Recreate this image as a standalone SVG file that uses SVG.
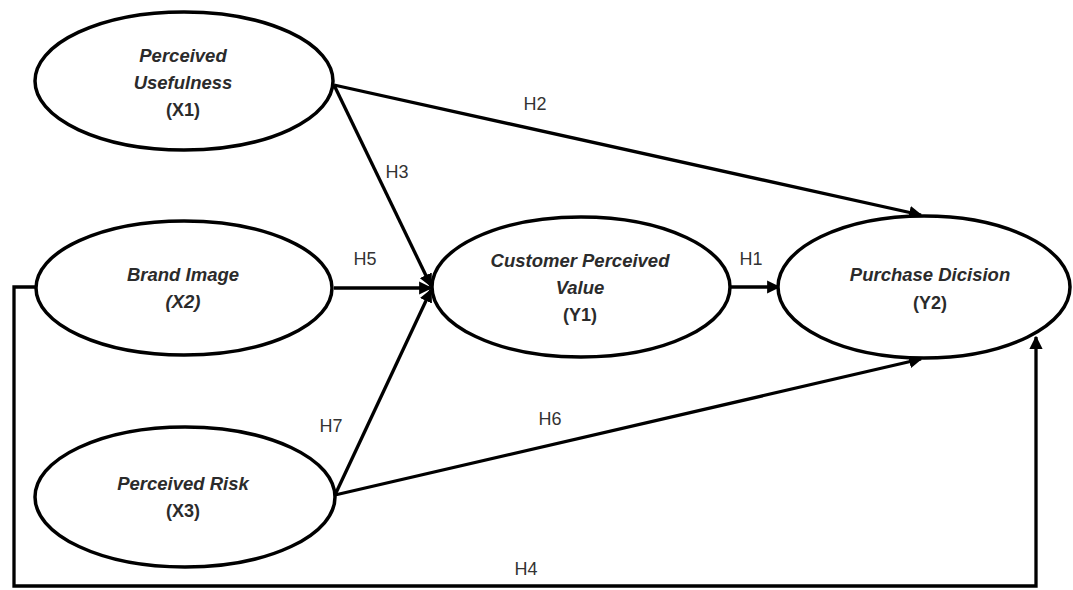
<svg xmlns="http://www.w3.org/2000/svg" width="1073" height="590" viewBox="0 0 1073 590">
<style>
.node{fill:#fff;stroke:#000;stroke-width:3.5}
.nt{font-family:"Liberation Sans",Arial,sans-serif;font-size:18.5px;font-weight:bold;font-style:italic;fill:#2b2b2b;text-anchor:middle}
.ntn{font-family:"Liberation Sans",Arial,sans-serif;font-size:18px;font-weight:bold;fill:#2b2b2b;text-anchor:middle}
.edge{fill:none;stroke:#000;stroke-width:3.3}
.lbl{font-family:"Liberation Sans",Arial,sans-serif;font-size:18px;fill:#333;text-anchor:middle}
</style>
<defs>
<marker id="ah" viewBox="0 0 10 10" refX="9" refY="5" markerWidth="4" markerHeight="4" orient="auto" markerUnits="strokeWidth">
<path d="M0,0 L10,5 L0,10 Z" fill="#000"/>
</marker>
</defs>
<rect width="1073" height="590" fill="#fff"/>
<g id="connectors">
<line class="edge" x1="334" y1="85" x2="921" y2="215" marker-end="url(#ah)"/>
<line class="edge" x1="334" y1="85" x2="431" y2="286" marker-end="url(#ah)"/>
<line class="edge" x1="334" y1="288" x2="431" y2="288" marker-end="url(#ah)"/>
<line class="edge" x1="335" y1="495" x2="431" y2="290" marker-end="url(#ah)"/>
<line class="edge" x1="335" y1="495" x2="921" y2="359" marker-end="url(#ah)"/>
<line class="edge" x1="730" y1="287" x2="779" y2="287" marker-end="url(#ah)"/>
<polyline class="edge" points="36,287 14,287 14,586 1036,586 1036,337" marker-end="url(#ah)"/>
<text class="lbl" x="535" y="110">H2</text>
<text class="lbl" x="397" y="178">H3</text>
<text class="lbl" x="365" y="265">H5</text>
<text class="lbl" x="751" y="265">H1</text>
<text class="lbl" x="331" y="432">H7</text>
<text class="lbl" x="550" y="425">H6</text>
<text class="lbl" x="526" y="575">H4</text>
</g>
<g id="x1">
<ellipse class="node" cx="184" cy="81" rx="149" ry="69"/>
<text class="nt" x="183" y="62">Perceived</text>
<text class="nt" x="183" y="89">Usefulness</text>
<text class="ntn" x="183" y="116">(X1)</text>
</g>
<g id="x2">
<ellipse class="node" cx="184" cy="288" rx="148" ry="67"/>
<text class="nt" x="183" y="281">Brand Image</text>
<text class="nt" x="183" y="308">(X2)</text>
</g>
<g id="x3">
<ellipse class="node" cx="185" cy="497" rx="150" ry="70"/>
<text class="nt" x="183" y="490">Perceived Risk</text>
<text class="ntn" x="183" y="517">(X3)</text>
</g>
<g id="y1">
<ellipse class="node" cx="581" cy="287" rx="149" ry="70"/>
<text class="nt" x="580" y="267">Customer Perceived</text>
<text class="nt" x="580" y="294">Value</text>
<text class="ntn" x="580" y="321">(Y1)</text>
</g>
<g id="y2">
<ellipse class="node" cx="924" cy="287" rx="146" ry="71"/>
<text class="nt" x="930" y="281">Purchase Dicision</text>
<text class="ntn" x="930" y="309">(Y2)</text>
</g>
</svg>
